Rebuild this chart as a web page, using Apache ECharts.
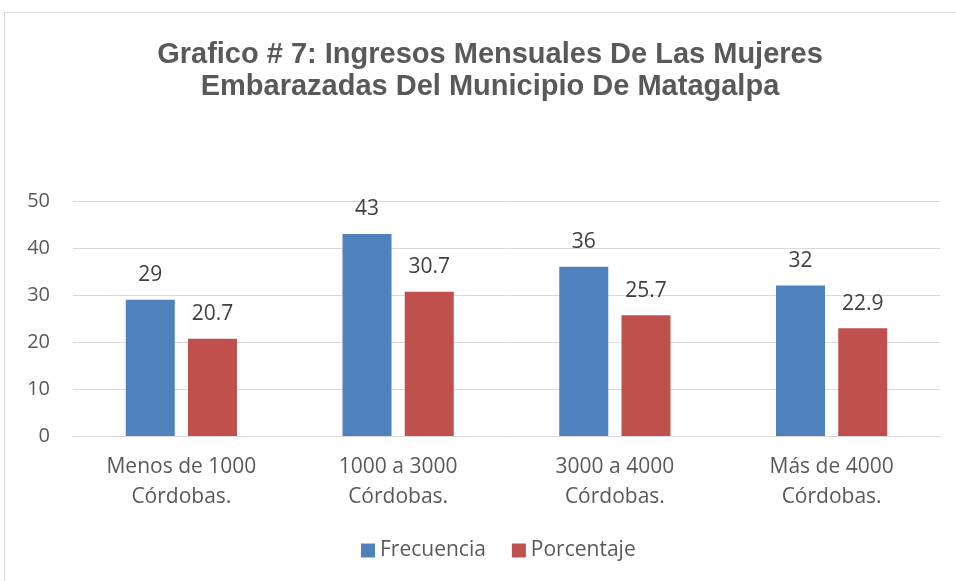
<!DOCTYPE html>
<html>
<head>
<meta charset="utf-8">
<script src="https://cdn.jsdelivr.net/npm/echarts@6/dist/echarts.min.js"></script>
<style>
  html, body { margin: 0; padding: 0; background: #fff; }
  #frame { position: absolute; left: 4px; top: 12px; width: 1000px; height: 700px; border: 1px solid #d9d9d9; }
  #chart { position: absolute; left: 0; top: 0; width: 956px; height: 581px; }
</style>
</head>
<body>
<div id="frame"></div>
<div id="chart"></div>
<script>
const categories = ['Menos de 1000\nCórdobas.', '1000 a 3000\nCórdobas.', '3000 a 4000\nCórdobas.', 'Más de 4000\nCórdobas.'];
const frecuencia = [29, 43, 36, 32];
const porcentaje = [20.7, 30.7, 25.7, 22.9];

const chart = echarts.init(document.getElementById('chart'));

const labelStyle = {
    show: true,
    position: 'top',
    distance: 14,
    color: '#404040',
    fontSize: 21,
    fontFamily: 'Open Sans, Noto Sans, sans-serif'
};

chart.setOption({
    animation: false,
    title: {
        text: 'Grafico # 7: Ingresos Mensuales De Las Mujeres\nEmbarazadas Del Municipio De Matagalpa',
        left: 485,
        top: 34,
        textAlign: 'center',
        textStyle: {
            color: '#595959',
            fontSize: 29,
            fontWeight: 'bold',
            fontFamily: 'Liberation Sans, Arial, sans-serif',
            lineHeight: 32
        }
    },
    legend: {
        bottom: 15,
        left: 356,
        itemWidth: 14,
        itemHeight: 14,
        itemGap: 26,
        icon: 'rect',
        textStyle: {
            color: '#595959',
            fontSize: 21,
            fontFamily: 'Open Sans, Noto Sans, sans-serif'
        },
        data: ['Frecuencia', 'Porcentaje']
    },
    grid: {
        left: 73,
        right: 16,
        top: 201,
        bottom: 145
    },
    xAxis: {
        type: 'category',
        data: categories,
        axisLine: { lineStyle: { color: '#d9d9d9', width: 1 } },
        axisTick: { show: false },
        axisLabel: {
            color: '#595959',
            fontSize: 21,
            lineHeight: 30,
            margin: 16,
            fontFamily: 'Open Sans, Noto Sans, sans-serif'
        }
    },
    yAxis: {
        type: 'value',
        min: 0,
        max: 50,
        interval: 10,
        axisLine: { show: false },
        axisTick: { show: false },
        splitLine: { lineStyle: { color: '#d9d9d9', width: 1 } },
        axisLabel: {
            color: '#595959',
            fontSize: 20,
            margin: 23,
            fontFamily: 'Open Sans, Noto Sans, sans-serif'
        }
    },
    series: [
        {
            name: 'Frecuencia',
            type: 'bar',
            data: frecuencia,
            barWidth: 49,
            barGap: '27%',
            itemStyle: { color: '#4f81bd' },
            label: labelStyle
        },
        {
            name: 'Porcentaje',
            type: 'bar',
            data: porcentaje,
            barWidth: 49,
            itemStyle: { color: '#c0504d' },
            label: labelStyle
        }
    ]
});
</script>
</body>
</html>
